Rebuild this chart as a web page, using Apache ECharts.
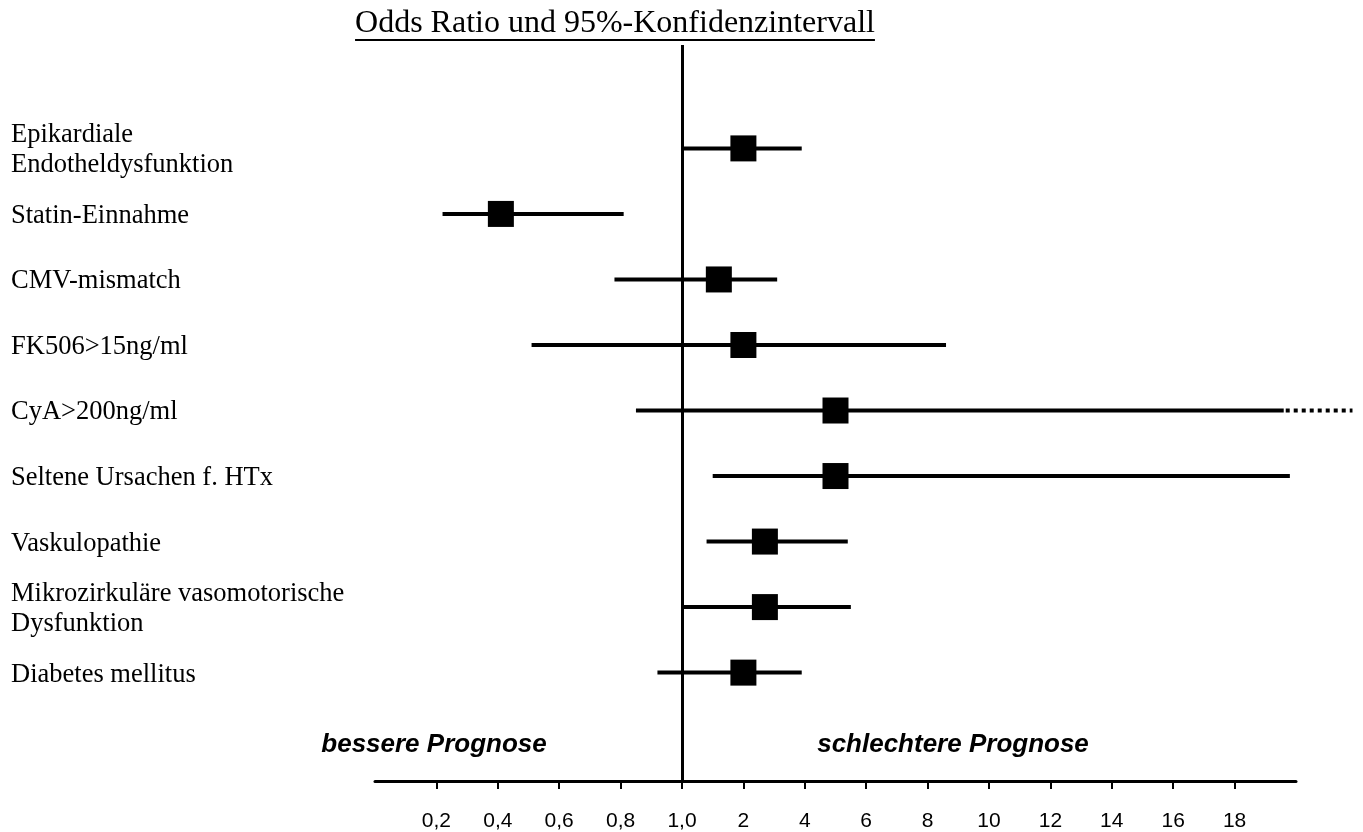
<!DOCTYPE html>
<html>
<head>
<meta charset="utf-8">
<script src="https://cdn.jsdelivr.net/npm/echarts@6/dist/echarts.min.js"></script>
<style>
  html, body { margin: 0; padding: 0; background: #fff; }
  #chart { width: 1363px; height: 832px; }
</style>
</head>
<body>
<div id="chart"></div>
<script>
// Risk factors (top to bottom)
const categories = [
  'Epikardiale\nEndotheldysfunktion',
  'Statin-Einnahme',
  'CMV-mismatch',
  'FK506>15ng/ml',
  'CyA>200ng/ml',
  'Seltene Ursachen f. HTx',
  'Vaskulopathie',
  'Mikrozirkuläre vasomotorische\nDysfunktion',
  'Diabetes mellitus'
];
// Odds ratio with lower / upper bound of the 95% confidence interval
const oddsRatio = [2.0, 0.41, 1.6, 2.0, 5.0, 5.0, 2.7, 2.7, 2.0];
const ciLower   = [1.0, 0.22, 0.78, 0.51, 0.85, 1.5, 1.4, 1.0, 0.92];
const ciUpper   = [3.9, 0.81, 3.1, 8.6, 19.6, 19.8, 5.4, 5.5, 3.9];
// interval continues beyond the end of the scale
const ciOpen    = [false, false, false, false, true, false, false, false, false];

// Axis ticks: equally spaced, piecewise-linear scale
const tickValues = [0.2, 0.4, 0.6, 0.8, 1.0, 2, 4, 6, 8, 10, 12, 14, 16, 18];
const tickLabels = ['0,2', '0,4', '0,6', '0,8', '1,0', '2', '4', '6', '8', '10', '12', '14', '16', '18'];

const refValue = 1.0;
const leftNote = 'bessere Prognose';
const rightNote = 'schlechtere Prognose';
const titleText = 'Odds Ratio und 95%-Konfidenzintervall';

// map an odds ratio onto the tick-index scale
function toPos(v) {
  const t = tickValues;
  if (v <= t[0]) return (v - t[0]) / (t[1] - t[0]);
  for (let k = 0; k < t.length - 1; k++) {
    if (v <= t[k + 1]) return k + (v - t[k]) / (t[k + 1] - t[k]);
  }
  const n = t.length - 1;
  return n + (v - t[n]) / (t[n] - t[n - 1]);
}

const rows = categories.map((c, i) => [i, toPos(ciLower[i]), toPos(ciUpper[i]), toPos(oddsRatio[i]), ciOpen[i] ? 1 : 0]);
const tickIdx = tickValues.map((v, i) => i);

const serif = '"Liberation Serif", "Times New Roman", serif';
const sans = '"Liberation Sans", Arial, sans-serif';

// width of the title for its underline
const titleFont = '32px ' + serif;
const cv = document.createElement('canvas').getContext('2d');
cv.font = titleFont;
const titleW = cv.measureText(titleText).width;
const titleX = 615;

const chart = echarts.init(document.getElementById('chart'), null, { renderer: 'canvas' });

chart.setOption({
  animation: false,
  backgroundColor: '#fff',
  grid: { left: 375, right: 67, top: 45, bottom: 49 },
  xAxis: {
    type: 'value',
    min: -1,
    max: 14,
    splitLine: { show: false },
    axisLine: { show: true, onZero: false, lineStyle: { color: '#000', width: 3 } },
    axisTick: { show: true, customValues: tickIdx, length: 8, lineStyle: { color: '#000', width: 2 } },
    axisLabel: {
      customValues: tickIdx,
      margin: 30,
      color: '#000',
      fontFamily: sans,
      fontSize: 21,
      formatter: v => tickLabels[Math.round(v)] ?? ''
    }
  },
  yAxis: {
    type: 'value',
    inverse: true,
    min: -1.578,
    max: 9.654,
    show: false
  },
  graphic: [
    {
      type: 'text', x: titleX, y: 24,
      style: { text: titleText, font: titleFont, fill: '#000', textAlign: 'center', textVerticalAlign: 'middle' }
    },
    {
      type: 'line',
      shape: { x1: titleX - titleW / 2, y1: 40, x2: titleX + titleW / 2, y2: 40 },
      style: { stroke: '#000', lineWidth: 2 }
    },
    {
      type: 'text', x: 434, y: 745,
      style: { text: leftNote, font: 'italic bold 26px ' + sans, fill: '#000', textAlign: 'center', textVerticalAlign: 'middle' }
    },
    {
      type: 'text', x: 953, y: 745,
      style: { text: rightNote, font: 'italic bold 26px ' + sans, fill: '#000', textAlign: 'center', textVerticalAlign: 'middle' }
    }
  ],
  series: [
    {
      type: 'custom',
      clip: false,
      silent: true,
      encode: { x: [1, 2, 3], y: 0 },
      data: rows,
      renderItem: function (params, api) {
        const row = api.value(0);
        const lo = api.coord([api.value(1), row]);
        const hi = api.coord([api.value(2), row]);
        const mid = api.coord([api.value(3), row]);
        const sq = 26;
        const children = [
          {
            type: 'line',
            shape: { x1: lo[0], y1: lo[1], x2: hi[0], y2: hi[1] },
            style: { stroke: '#000', lineWidth: 4 }
          },
          {
            type: 'rect',
            shape: { x: mid[0] - sq / 2, y: mid[1] - sq / 2, width: sq, height: sq },
            style: { fill: '#000' }
          },
          {
            type: 'text',
            x: 11, y: mid[1] + 2,
            style: {
              text: categories[params.dataIndex],
              font: '26.5px ' + serif,
              fill: '#000',
              lineHeight: 30,
              textAlign: 'left',
              textVerticalAlign: 'middle'
            }
          }
        ];
        if (api.value(4)) {
          const end = api.coord([api.value(2) + 1.12, row]);
          children.push({
            type: 'line',
            shape: { x1: hi[0] + 2, y1: hi[1], x2: end[0], y2: end[1] },
            style: { stroke: '#000', lineWidth: 4, lineDash: [4, 4] }
          });
        }
        return { type: 'group', children: children };
      },
      markLine: {
        symbol: 'none',
        silent: true,
        label: { show: false },
        lineStyle: { color: '#000', width: 3, type: 'solid' },
        data: [{ xAxis: toPos(refValue) }]
      }
    }
  ]
});
</script>
</body>
</html>
